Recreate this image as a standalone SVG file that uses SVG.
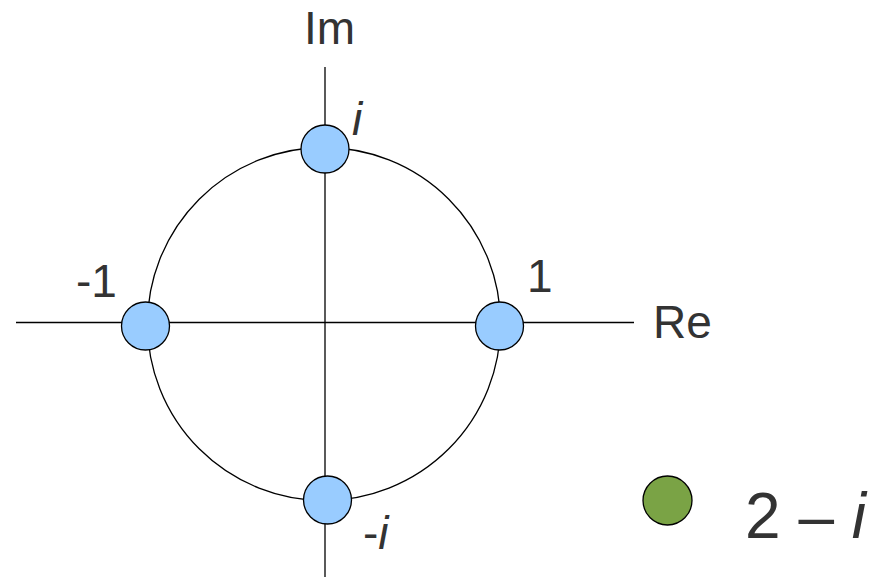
<svg xmlns="http://www.w3.org/2000/svg" width="874" height="577" viewBox="0 0 874 577">
<style>
.ln{stroke:#000;stroke-width:1.3;fill:none}
.pt{fill:#99ccff;stroke:#000;stroke-width:1.3}
.t{font-family:"Liberation Sans",Arial,sans-serif;fill:#333;font-size:46px}
.big{font-size:64px}
.it{font-style:italic}
</style>
<rect width="874" height="577" fill="#fff"/>
<g id="connectors">
<circle class="ln" cx="324" cy="324" r="176.5"/>
<line class="ln" x1="325" y1="67" x2="325" y2="577"/>
<line class="ln" x1="16" y1="322.5" x2="634" y2="322.5"/>
</g>
<g id="axis-im"><text class="t" x="304" y="44">Im</text></g>
<g id="axis-re"><text class="t" x="653" y="338">Re</text></g>
<g id="node-i"><circle class="pt" cx="325" cy="149" r="24"/><text class="t it" x="352" y="135">i</text></g>
<g id="node-1"><circle class="pt" cx="499.5" cy="326" r="24"/><text class="t" x="527" y="292">1</text></g>
<g id="node-m1"><circle class="pt" cx="145.5" cy="326" r="24"/><text class="t" x="76" y="297">-1</text></g>
<g id="node-mi"><circle class="pt" cx="327.5" cy="500" r="24"/><text class="t" x="363" y="549">-<tspan class="it">i</tspan></text></g>
<g id="node-2mi"><circle cx="667.5" cy="500.5" r="24.5" fill="#7aa345" stroke="#000" stroke-width="1.3"/><text class="t big" x="745" y="538">2 – <tspan class="it">i</tspan></text></g>
</svg>
